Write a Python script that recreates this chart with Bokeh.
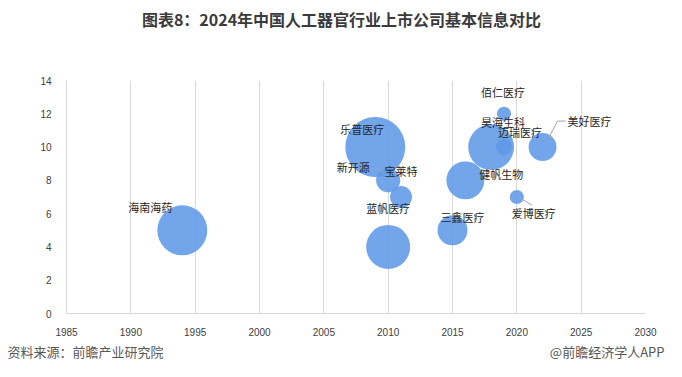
from bokeh.plotting import figure
from bokeh.models import ColumnDataSource, Range1d, Label, FixedTicker
from bokeh.embed import file_html
from bokeh.resources import INLINE
from bokeh.core.properties import value

# ---- data ----
companies = ["海南海药", "乐普医疗", "新开源", "宝莱特", "蓝帆医疗", "三鑫医疗",
             "健帆生物", "迈瑞医疗", "昊海生科", "佰仁医疗", "美好医疗", "爱博医疗"]
listing_year = [1994, 2009, 2010, 2011, 2010, 2015, 2016, 2018, 2019, 2019, 2022, 2020]
metric = [5, 10, 8, 7, 4, 5, 8, 10, 10, 12, 10, 7]
bubble_value = [25, 36, 5.8, 4.8, 19.4, 9, 14.4, 21, 2.6, 2.0, 7.8, 2.0]
x_ticks = [1985, 1990, 1995, 2000, 2005, 2010, 2015, 2020, 2025, 2030]
y_ticks = [0, 2, 4, 6, 8, 10, 12, 14]

title_text = "图表8：2024年中国人工器官行业上市公司基本信息对比"
source_text = "资料来源：前瞻产业研究院"
brand_text = "@前瞻经济学人APP"

# ---- styling / layout ----
W, H = 666, 361
BL, BR, BT, BB = 66, 21, 80, 48
FW, FH = W - BL - BR, H - BT - BB
px_x = FW / (x_ticks[-1] - x_ticks[0])
px_y = FH / (y_ticks[-1] - y_ticks[0])
H13 = 19  # height of a 13px text panel

# label offsets (pixels, screen: +y down)
lab_dx = [-32, -13, -35, 0, 0, 10, 36, 29, -1, -1, 47, 17]
lab_dy = [-23, -18, -13, -26, -39, -13, -6, -15, -25, -22, -26, 16]

diam = [10 * v ** 0.5 for v in bubble_value]

src = ColumnDataSource(dict(x=listing_year, y=metric, size=diam, name=companies,
                            dx=lab_dx, dy=lab_dy))

p = figure(width=W, height=H, output_backend="svg", toolbar_location=None,
           x_range=Range1d(x_ticks[0], x_ticks[-1]), y_range=Range1d(y_ticks[0], y_ticks[-1]),
           min_border_left=BL, min_border_right=BR, min_border_top=BT, min_border_bottom=BB)
p.outline_line_color = None
p.background_fill_color = "white"
p.border_fill_color = "white"

p.xgrid.ticker = FixedTicker(ticks=x_ticks)
p.xgrid.grid_line_color = "#d9d9d9"
p.ygrid.grid_line_color = None

for ax in (p.xaxis[0], p.yaxis[0]):
    ax.axis_line_color = "#d9d9d9"
    ax.major_tick_line_color = None
    ax.minor_tick_line_color = None
    ax.major_label_text_font = "Liberation Sans"
    ax.major_label_text_font_size = "10px"
    ax.major_label_text_color = "#404040"
p.xaxis.ticker = FixedTicker(ticks=x_ticks)
p.yaxis.ticker = FixedTicker(ticks=y_ticks)
p.xaxis.major_label_standoff = 8
p.yaxis.major_label_standoff = 9

p.scatter("x", "y", size="size", source=src, fill_color="#5f98e6", fill_alpha=0.88,
          line_color=None)

# leader lines (pixel offsets from the bubble centre)
leaders = {2: [(-13, -13), (-4, -7)],
           10: [(23, -26), (15, -26), (5, -7)],
           11: [(5, 2), (15, 8)]}
xs, ys = [], []
for i, pts in leaders.items():
    xs.append([listing_year[i] + dx / px_x for dx, dy in pts])
    ys.append([metric[i] - dy / px_y for dx, dy in pts])
p.multi_line(xs, ys, line_color="#a6a6a6", line_width=1)

p.text("x", "y", text="name", source=src, x_offset="dx", y_offset="dy",
       text_font=value("Noto Sans CJK SC"), text_font_size="11px", text_color="#262626",
       text_align="center", text_baseline="middle")

# page-level texts in the top side panel (screen units relative to each panel)
# panels stack outward from the frame: source, brand, title
p.add_layout(Label(x=7 - BL, y=BT - 351, x_units="screen", y_units="screen",
                   text=source_text, text_font="Noto Sans CJK SC",
                   text_font_size="13px", text_color="#595959",
                   text_align="left", text_baseline="middle"), "above")
p.add_layout(Label(x=664 - BL, y=(BT - H13) - 351, x_units="screen", y_units="screen",
                   text=brand_text, text_font="Noto Sans CJK SC",
                   text_font_size="13px", text_color="#595959",
                   text_align="right", text_baseline="middle"), "above")
p.add_layout(Label(x=341 - BL, y=(BT - 2 * H13) - 18, x_units="screen", y_units="screen",
                   text=title_text, text_font="Noto Sans CJK SC", text_font_style="bold",
                   text_font_size="16px", text_color="#3b3b3b",
                   text_align="center", text_baseline="middle"), "above")

open("out.html", "w").write(file_html(p, INLINE))
